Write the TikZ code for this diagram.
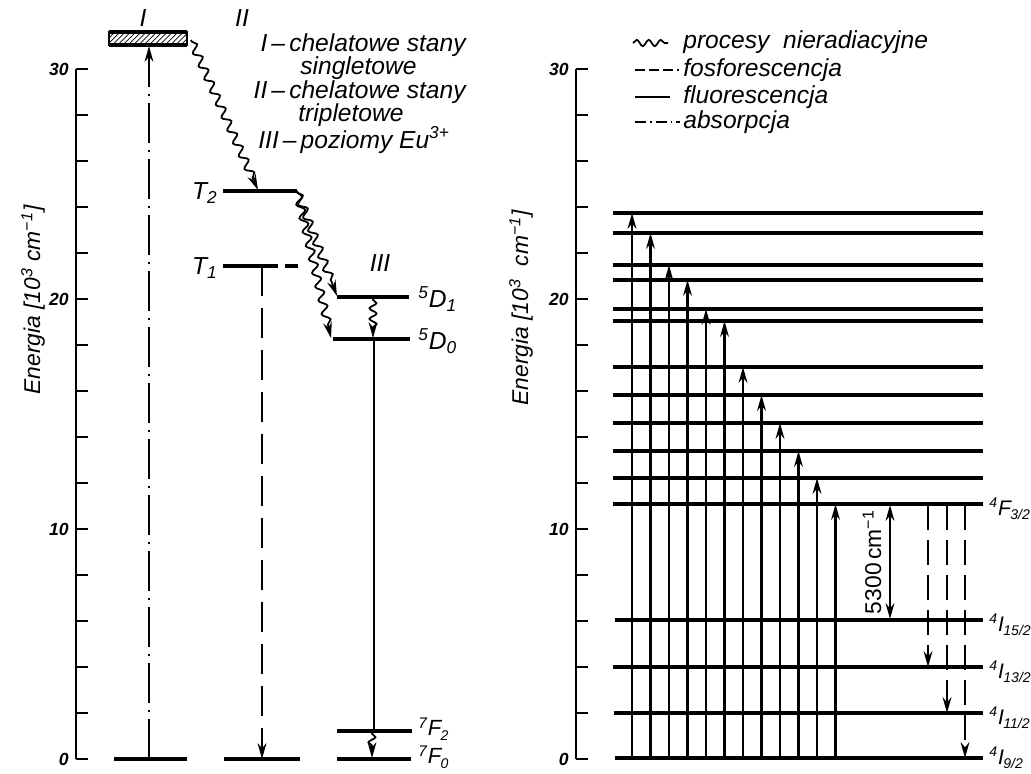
\documentclass[tikz,border=0pt]{standalone}
\usepackage{fontspec}
\setmainfont{Liberation Sans}
\usetikzlibrary{arrows.meta,decorations.pathmorphing,patterns}
\newcommand\lvlab[3]{\textsuperscript{#1}#2\kern-0.3pt\raisebox{-0.4ex}{\fontsize{8}{8}\selectfont #3}}
\begin{document}
\begin{tikzpicture}[x=0.02cm,y=-0.02cm,
  lvl/.style={line width=2pt},
  axl/.style={line width=1.4pt},
  tr/.style={line width=1.2pt},
  tip/.style={-{Stealth[length=9pt,width=5pt]}},
  dtip/.style={{Stealth[length=9pt,width=5pt]}-{Stealth[length=9pt,width=5pt]}},
  wavy/.style={line width=1pt, decorate, decoration={snake,amplitude=2.2pt,segment length=8pt,post length=7pt,pre length=1pt}},
  swavy/.style={line width=1pt, decorate, decoration={snake,amplitude=2pt,segment length=6pt,post length=6pt,pre length=1pt}},
  lab/.style={font=\fontsize{14}{16}\selectfont\itshape, inner sep=0pt},
  flab/.style={font=\fontsize{12.5}{14}\selectfont\itshape, inner sep=0pt, anchor=west},
  rlab/.style={font=\fontsize{12}{13}\selectfont\itshape, inner sep=0pt, anchor=west},
  num/.style={font=\fontsize{10}{12}\selectfont\bfseries\itshape, inner sep=0pt},
  phos/.style={dash pattern=on 0.6cm off 0.24cm},
  phosR/.style={dash pattern=on 0.5cm off 0.2cm},
  absd/.style={dash pattern=on 0.8cm off 0.14cm on 0.04cm off 0.14cm},
]
\useasboundingbox (0,0) rectangle (1031,774);

% ---------- axes ----------
\foreach \ax/\nm in {76/L,576/R} {
  \draw[axl] (\ax,69) -- (\ax,759);
  \foreach \k in {0,...,15} \draw[axl] (\ax,{759-46*\k}) -- ({\ax+12},{759-46*\k});
  \foreach \v in {0,10,20,30} \node[num,anchor=east] (t\nm\v) at ({\ax-7},{759-23*\v}) {\v};
}
\node[lab,rotate=90,font=\fontsize{13}{15}\selectfont\itshape] (yL) at (33,300) {Energia [10\textsuperscript{3} cm\textsuperscript{\char"2212 1}]};
\node[lab,rotate=90,font=\fontsize{13}{15}\selectfont\itshape] (yR) at (521,308) {Energia [10\textsuperscript{3}\ \ cm\textsuperscript{\char"2212 1}]};

% ---------- left diagram ----------
\node[lab] (lI) at (143,18) {I};
\node[lab] (lII) at (242,18) {II};
\node[lab,anchor=east] (leg1) at (466,45) {I\,--\,chelatowe stany};
\node[lab,anchor=west] (leg2) at (300,68) {singletowe};
\node[lab,anchor=east] (leg3) at (466,92) {II\,--\,chelatowe stany};
\node[lab,anchor=west] (leg4) at (298,115) {tripletowe};
\node[lab,anchor=west] (leg5) at (258,140) {III\,--\,poziomy Eu\textsuperscript{3+}};

% singlet band
\fill[pattern=north east lines] (109,32) rectangle (187,45);
\draw[line width=1.2pt] (109,32) rectangle (187,45);
\draw[line width=2pt] (109,32) -- (187,32) (109,45) -- (187,45);
\coordinate (S1b) at (149,46);
\coordinate (S1r) at (191,40);
% ground levels
\draw[lvl] (114,759) coordinate (G1a) -- (187,759) coordinate (G1b);
\coordinate (G1) at (149,759);
\draw[lvl] (224,759) coordinate (G2a) -- (300,759) coordinate (G2b);
\coordinate (G2) at (262,759);
% T2, T1
\draw[lvl] (223,191) coordinate (T2a) -- (297,191) coordinate (T2b);
\coordinate (T2in) at (258,190);
\draw[lvl] (223,266) coordinate (T1a) -- (278,266);
\draw[lvl] (285,266) -- (298,266) coordinate (T1b);
\coordinate (T1) at (262,266);
\node[lab,anchor=east] (lT2) at (218,193) {T\textsubscript{2}};
\node[lab,anchor=east] (lT1) at (218,268) {T\textsubscript{1}};
% Eu levels
\node[lab] (lIII) at (380,263) {III};
\draw[lvl] (337,297) coordinate (D1a) -- (409,297) coordinate (D1b);
\draw[lvl] (333,339) coordinate (D0a) -- (410,339) coordinate (D0b);
\draw[lvl] (337,731) coordinate (F2a) -- (412,731) coordinate (F2b);
\draw[lvl] (337,759) coordinate (F0a) -- (411,759) coordinate (F0b);
\coordinate (D1w) at (373,298);
\coordinate (D0w) at (373,338);
\coordinate (D0f) at (374,339);
\coordinate (F2f) at (374,731);
\coordinate (F2w) at (372,732);
\coordinate (F0w) at (372,758);
\coordinate (D0in) at (331,338);
\coordinate (D1in) at (337,296);
\node[lab,anchor=west] (l5D1) at (418,299) {\textsuperscript{5}D\textsubscript{1}};
\node[lab,anchor=west] (l5D0) at (418,341) {\textsuperscript{5}D\textsubscript{0}};
\node[flab] (l7F2) at (418,729) {\lvlab{7}{F}{2}};
\node[flab] (l7F0) at (418,757) {\lvlab{7}{F}{0}};

% transitions left
\draw[tr,absd,tip] (G1) -- (S1b);
\draw[tr,phos,tip] (T1) -- (G2);
\draw[tr] (D0f) -- (F2f);
\draw[wavy,tip] (S1r) -- (T2in);
\draw[wavy,tip] (T2b) -- (D1in);
\draw[wavy,tip] (T2b) -- (D0in);
\draw[swavy,tip] (D1w) -- (D0w);
\draw[swavy,tip] (F2w) -- (F0w);

% ---------- right legend ----------
\draw[line width=1pt, decorate, decoration={snake,amplitude=1.8pt,segment length=0.24cm}] (633,43) coordinate (lw1) -- (668,43) coordinate (lw2);
\node[lab,anchor=west] (r1) at (683,42) {procesy\ \ nieradiacyjne};
\draw[tr,dash pattern=on 0.2cm off 0.08cm] (635,70) coordinate (ld1) -- (679,70) coordinate (ld2);
\node[lab,anchor=west] (r2) at (683,70) {fosforescencja};
\draw[tr] (635,97) coordinate (ls1) -- (670,97) coordinate (ls2);
\node[lab,anchor=west] (r3) at (683,97) {fluorescencja};
\draw[tr,dash pattern=on 0.22cm off 0.08cm on 0.03cm off 0.08cm] (635,122) coordinate (la1) -- (680,122) coordinate (la2);
\node[lab,anchor=west] (r4) at (683,122) {absorpcja};

% ---------- right diagram ----------
\foreach \y [count=\i] in {213,233,265,280,309,321,367,395,423,451,478,504} {
  \draw[lvl] (613,\y) coordinate (U\i a) -- (983,\y) coordinate (U\i b);
  \coordinate (A\i t) at ({613.5+18.5*\i},\y);
  \coordinate (A\i s) at ({613.5+18.5*\i},758);
  \draw[tr,tip] (A\i s) -- (A\i t);
}
\draw[lvl] (615,620) coordinate (I15a) -- (983,620) coordinate (I15b);
\draw[lvl] (613,667) coordinate (I13a) -- (983,667) coordinate (I13b);
\draw[lvl] (614,713) coordinate (I11a) -- (983,713) coordinate (I11b);
\draw[lvl] (615,758) coordinate (I9a) -- (983,758) coordinate (I9b);

\coordinate (m1) at (890,505); \coordinate (m2) at (890,619);
\draw[tr,dtip] (m1) -- (m2);
\node[font=\fontsize{13}{15}\selectfont,rotate=90,inner sep=0pt] (l5300) at (872,562) {5300\,cm\textsuperscript{\char"2212 1}};

\coordinate (p1s) at (928,505); \coordinate (p1e) at (928,667);
\coordinate (p2s) at (947,505); \coordinate (p2e) at (947,713);
\coordinate (p3s) at (965,505); \coordinate (p3e) at (965,758);
\draw[tr,phosR,tip] (p1s) -- (p1e);
\draw[tr,phosR,tip] (p2s) -- (p2e);
\draw[tr,phosR,tip] (p3s) -- (p3e);

\node[rlab] (lF32) at (989,509) {\lvlab{4}{F}{3/2}};
\node[rlab] (lI15) at (989,625) {\lvlab{4}{I}{15/2}};
\node[rlab] (lI13) at (989,672) {\lvlab{4}{I}{13/2}};
\node[rlab] (lI11) at (989,718) {\lvlab{4}{I}{11/2}};
\node[rlab] (lI9) at (989,758) {\lvlab{4}{I}{9/2}};
\end{tikzpicture}
\end{document}
